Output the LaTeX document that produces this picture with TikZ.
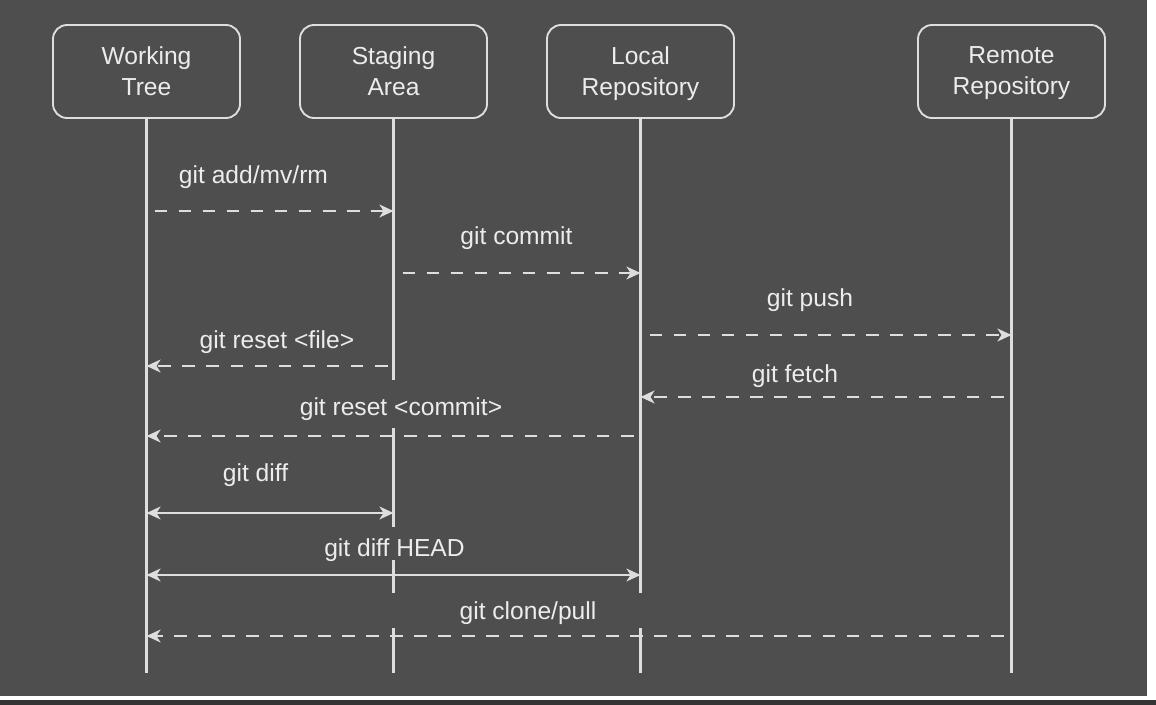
\documentclass[tikz,border=0pt]{standalone}
\usepackage{fontspec}
\setmainfont{Liberation Sans}
\usetikzlibrary{arrows.meta}
\usetikzlibrary{calc}
\definecolor{screen}{RGB}{78,78,78}
\definecolor{bezel}{RGB}{52,52,52}
\definecolor{chalk}{RGB}{222,222,222}
\definecolor{ink}{RGB}{236,236,236}
\tikzset{>={Stealth[length=12pt, width=11pt, inset=3.5pt]}}
\tikzset{
    party/.style = {draw=chalk, line width=1.6pt, rounded corners=12pt,
        minimum width=5.61cm, minimum height=2.79cm, align=center, text depth=.1em,
        text=ink, font=\fontsize{21}{26.5}\selectfont},
    lifeline/.style = {draw=chalk, line width=2pt},
    msg/.style = {text=ink, anchor=base, inner sep=2pt,
        text height=.75em, text depth=.25em, font=\fontsize{21}{25}\selectfont},
    call/.style = {draw=chalk, line width=1.8pt, dash pattern=on 11pt off 9.5pt},
    diffline/.style = {draw=chalk, line width=1.7pt, <->}
}

\begin{document}
\begin{tikzpicture}[x=0.03cm, y=-0.03cm]
            \useasboundingbox (0, 0) rectangle (1156, 705);
            \fill[white] (0, 0) rectangle (1156, 705);
            \fill[screen] (0, 0) rectangle (1147, 696);
            \fill[bezel] (0, 700) rectangle (1156, 705);
            % the four parties
            \node[party] (wt) at (146.5, 71.5) {Working\\Tree};
            \node[party] (sa) at (393.5, 71.5) {Staging\\Area};
            \node[party] (lr) at (640.5, 71.5) {Local\\Repository};
            \node[party] (rr) at (1011.5, 71.5) {Remote\\Repository};
            % lifelines, broken where the capture breaks them
            \draw[lifeline] (wt) -- (wt.south |- 0, 673);
            \draw[lifeline] (rr) -- (rr.south |- 0, 673);
            \draw[lifeline] (lr) -- (lr.south |- 0, 593);
            \draw[lifeline] (lr.south |- 0, 628) -- (lr.south |- 0, 673);
            \draw[lifeline] (sa) -- (sa.south |- 0, 380);
            \foreach \a/\b in {428/527, 560/593, 628/673} {
                \draw[lifeline] (sa.south |- 0, \a) -- (sa.south |- 0, \b);
            }
            % labels
            \node[msg] (add) at (253.5, 183) {git add/mv/rm};
            \node[msg] (commit) at (516.5, 244) {git commit};
            \node[msg] (push) at (810, 306) {git push};
            \node[msg] (resetfile) at (277, 348) {git reset <file>};
            \node[msg] (fetch) at (795, 382) {git fetch};
            \node[msg] (resetcommit) at (401, 415) {git reset <commit>};
            \node[msg] (diff) at (255.5, 481) {git diff};
            \node[msg] (diffhead) at (394.5, 556) {git diff HEAD};
            \node[msg] (clone) at (528, 619) {git clone/pull};
            % messages
            \draw[call, ->] ($(wt.south |- 0, 211) + (8, 0)$) -- (sa.south |- 0, 211);
            \draw[call, ->] ($(sa.south |- 0, 273) + (9, 0)$) -- (lr.south |- 0, 273);
            \draw[call, ->] ($(lr.south |- 0, 335) + (9, 0)$) -- (rr.south |- 0, 335);
            \draw[call, ->] ($(sa.south |- 0, 366) + (-6, 0)$) -- (wt.south |- 0, 366);
            \draw[call, ->] ($(rr.south |- 0, 397) + (-8, 0)$) -- (lr.south |- 0, 397);
            \draw[call, ->] ($(lr.south |- 0, 436) + (-7, 0)$) -- (wt.south |- 0, 436);
            \draw[diffline] (wt.south |- 0, 513) -- (sa.south |- 0, 513);
            \draw[diffline] (wt.south |- 0, 575) -- (lr.south |- 0, 575);
            \draw[call, ->] ($(rr.south |- 0, 636) + (-8, 0)$) -- (wt.south |- 0, 636);
        \end{tikzpicture}
\end{document}
